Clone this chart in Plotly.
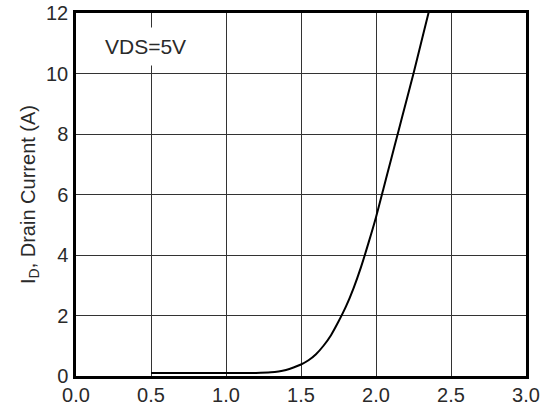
import plotly.graph_objects as go

vgs = [0.5, 0.6, 0.7, 0.8, 0.9, 1.0, 1.1, 1.2, 1.3, 1.35, 1.4, 1.45, 1.5, 1.55, 1.6,
       1.65, 1.7, 1.75, 1.8, 1.85, 1.9, 1.95, 2.0, 2.05, 2.1, 2.15, 2.2, 2.25, 2.3, 2.35, 2.36]
i_d = [0.1, 0.1, 0.1, 0.1, 0.1, 0.1, 0.1, 0.1, 0.12, 0.15, 0.2, 0.28, 0.38, 0.52, 0.72,
       1.0, 1.35, 1.8, 2.3, 2.9, 3.6, 4.4, 5.25, 6.2, 7.15, 8.1, 9.05, 10.0, 11.0, 12.0, 12.2]

x_ticks = [0.0, 0.5, 1.0, 1.5, 2.0, 2.5, 3.0]
x_labels = ["0.0", "0.5", "1.0", "1.5", "2.0", "2.5", "3.0"]
y_ticks = [0, 2, 4, 6, 8, 10, 12]
y_labels = ["0", "2", "4", "6", "8", "10", "12"]

FONT = "Liberation Sans, Arial, sans-serif"

fig = go.Figure()
fig.add_trace(go.Scatter(x=vgs, y=i_d, mode="lines",
                         line=dict(color="black", width=2, shape="spline", smoothing=0.8),
                         showlegend=False, hoverinfo="skip", cliponaxis=True))

fig.add_annotation(x=0.14, y=10.89, xref="x", yref="y", text="VDS=5V",
                   showarrow=False, xanchor="left", yanchor="middle",
                   font=dict(family=FONT, size=21, color="#2a2a2a"),
                   bgcolor="white", borderpad=7)

fig.update_layout(
    width=547, height=409,
    margin=dict(l=76, r=21, t=13, b=33, autoexpand=False),
    paper_bgcolor="white", plot_bgcolor="white",
    font=dict(family=FONT, size=20, color="#2a2a2a"),
)
fig.update_xaxes(range=[0, 3], tickvals=x_ticks, ticktext=x_labels,
                 showgrid=True, gridcolor="#333", gridwidth=1.3,
                 showline=True, linecolor="black", linewidth=2.5, mirror=True,
                 zeroline=False, ticks="", ticklabelstandoff=-1, automargin=False,
                 ticklabeloverflow="allow")
fig.update_yaxes(range=[0, 12], tickvals=y_ticks, ticktext=y_labels,
                 showgrid=True, gridcolor="#333", gridwidth=1.3,
                 showline=True, linecolor="black", linewidth=2.5, mirror=True,
                 zeroline=False, ticks="", ticklabelstandoff=1, automargin=False,
                 ticklabeloverflow="allow",
                 title=dict(text="I<sub>D</sub>, Drain Current (A)",
                            font=dict(family=FONT, size=20, color="#2a2a2a"), standoff=6))

# remove the browser's default 8px body margin so the figure fills the window
fig.write_html("out.html", config={"displayModeBar": False},
               post_script="document.body.style.margin='0';")
